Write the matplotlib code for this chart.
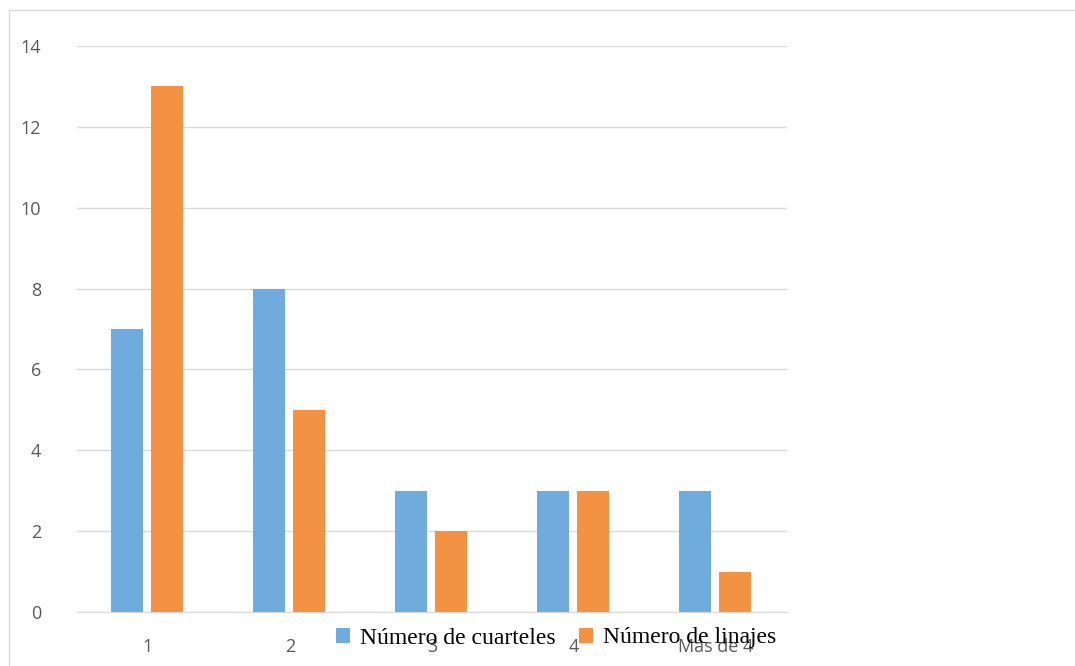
import matplotlib.pyplot as plt
import numpy as np
from matplotlib.patches import Rectangle

categories = ['1', '2', '3', '4', 'Más de 4']
cuarteles = [7, 8, 3, 3, 3]
linajes = [13, 5, 2, 3, 1]

blue = '#6FABDC'
orange = '#F39242'

fig = plt.figure(figsize=(10.75, 6.66), dpi=100)
ax = fig.add_axes([77/1075, 54/666, 710/1075, 566/666])

x = np.arange(len(categories))
w = 0.225
ax.bar(x - 0.148, cuarteles, w, color=blue, label='Número de cuarteles')
ax.bar(x + 0.134, linajes, w, color=orange, label='Número de linajes')

ax.set_xlim(-0.5, 4.5)
ax.set_ylim(0, 14)
ax.set_yticks(range(0, 15, 2))
ax.set_xticks(x)
ax.set_xticklabels(categories)
ax.grid(axis='y', color='#D9D9D9', linewidth=1)
ax.set_axisbelow(True)
for s in ['top', 'right', 'left']:
    ax.spines[s].set_visible(False)
ax.spines['bottom'].set_color('#D9D9D9')
ax.tick_params(length=0, labelsize=13, colors='#595959')
ax.tick_params(axis='y', pad=26)
ax.tick_params(axis='x', pad=19)
for t in ax.get_xticklabels() + ax.get_yticklabels():
    t.set_family('Open Sans')

# legend sits over the x tick labels, as in the original
ax.legend(loc='center', bbox_to_anchor=(556/1075, 28/666), bbox_transform=fig.transFigure,
          ncol=2, frameon=False, prop={'family': 'Liberation Serif', 'size': 17},
          handlelength=0.6, handleheight=0.6, handletextpad=0.4, columnspacing=1.0)

fig.patches.append(Rectangle((9/1075, -0.1), 1.2, (666-10)/666 + 0.1, transform=fig.transFigure,
                             fill=False, edgecolor='#D9D9D9', linewidth=1))

fig.savefig('out.png', dpi=100)
